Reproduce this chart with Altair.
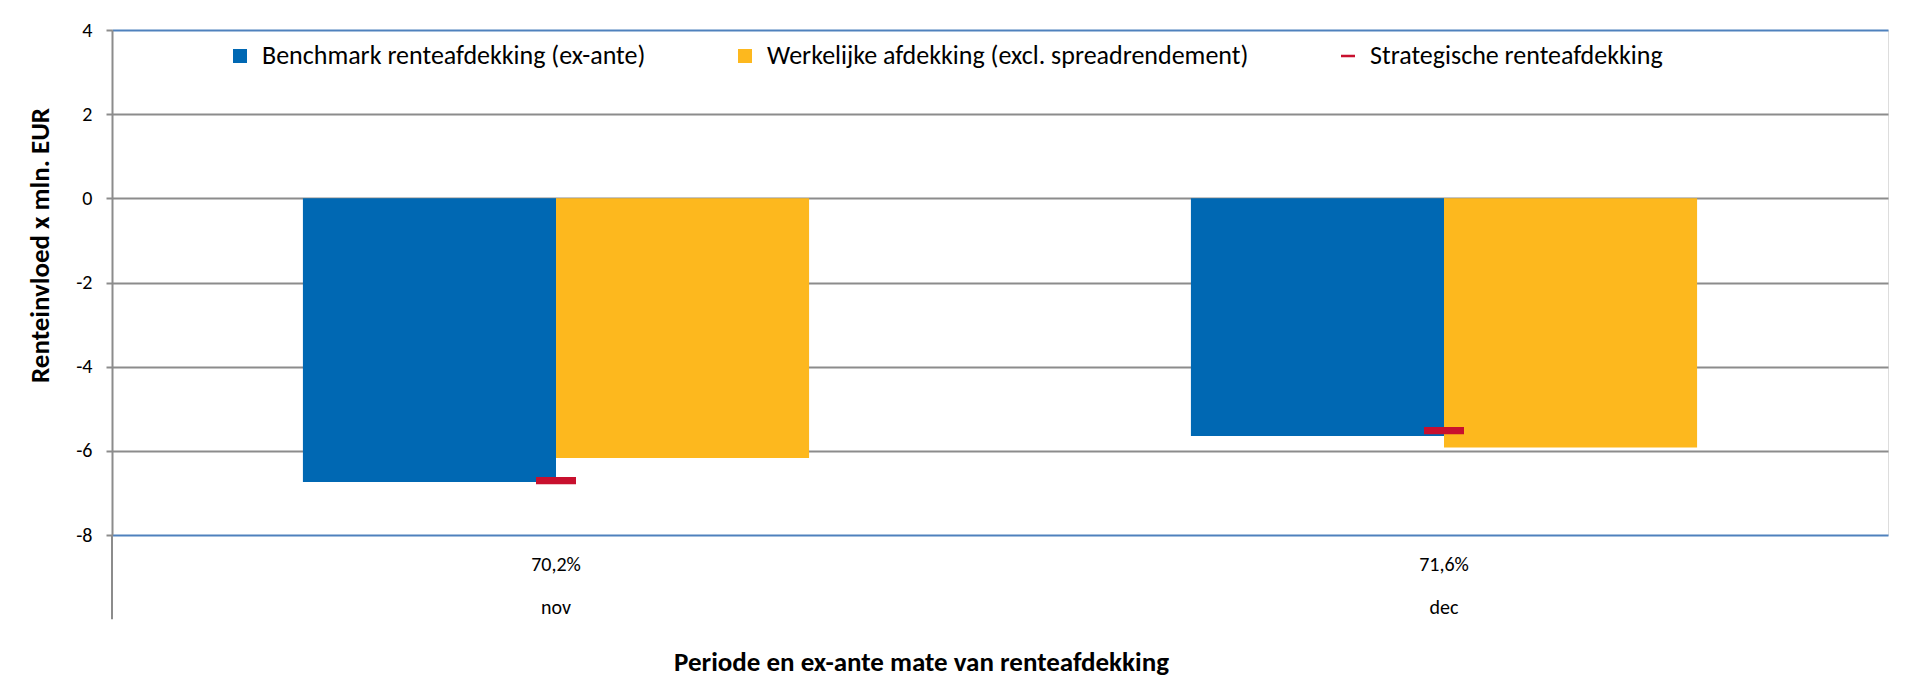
import altair as alt
import pandas as pd

periods = ["nov", "dec"]
hedge_ratios = ["70,2%", "71,6%"]
series_names = [
    "Benchmark renteafdekking (ex-ante)",
    "Werkelijke afdekking (excl. spreadrendement)",
    "Strategische renteafdekking",
]
benchmark = [-6.74, -5.65]
werkelijk = [-6.17, -5.92]
strategisch = [-6.71, -5.52]
y_ticks = [-8, -6, -4, -2, 0, 2, 4]

colors = ["#0068B3", "#FDB81E", "#C8102E"]
shapes = ["square", "square", "M-1,-0.18H1V0.18H-1Z"]
FONT = "Carlito, Calibri, Lato, sans-serif"

rows = []
for i, p in enumerate(periods):
    lab = hedge_ratios[i] + "|" + p
    rows.append({"cat": lab, "series": series_names[0], "value": benchmark[i]})
    rows.append({"cat": lab, "series": series_names[1], "value": werkelijk[i]})
    rows.append({"cat": lab, "series": series_names[2], "value": strategisch[i]})
df = pd.DataFrame(rows)
cat_order = [hedge_ratios[i] + "|" + p for i, p in enumerate(periods)]

x_enc = alt.X(
    "cat:N",
    sort=cat_order,
    scale=alt.Scale(paddingInner=0.43, paddingOuter=0.215),
    axis=alt.Axis(
        title="Periode en ex-ante mate van renteafdekking",
        labelExpr="split(datum.label, '|')",
        labelAngle=0,
        labelFont=FONT,
        labelFontSize=20,
        labelColor="#000000",
        labelLineHeight=43,
        labelBaseline="alphabetic",
        labelPadding=35,
        labelLimit=0,
        ticks=False,
        tickSize=0,
        domain=False,
        grid=False,
        titleFont=FONT,
        titleFontSize=27,
        titleFontWeight="bold",
        titleColor="#000000",
        titleX=809,
        titleY=135,
        titleAlign="center",
        titleBaseline="alphabetic",
        titleLimit=0,
    ),
)

y_scale = alt.Scale(domain=[-8, 4], nice=False, zero=False)
y_axis = alt.Axis(
    title="Renteinvloed x mln. EUR",
    values=y_ticks,
    labelExpr="'' + datum.value",
    labelFont=FONT,
    labelFontSize=20,
    labelColor="#000000",
    labelPadding=14,
    tickSize=6,
    tickWidth=2,
    tickColor="#8C8C8C",
    domainColor="#8C8C8C",
    domainWidth=2,
    gridColor={
        "condition": {"test": "datum.value === -8 || datum.value === 4", "value": "#4F81BD"},
        "value": "#8C8C8C",
    },
    gridWidth=2,
    titleFont=FONT,
    titleFontSize=27,
    titleFontWeight="bold",
    titleColor="#000000",
    titleAngle=270,
    titleX=-72,
    titleY=215,
    titleAlign="center",
    titleBaseline="middle",
    titleLimit=0,
)

color_scale = alt.Scale(domain=series_names, range=colors)
shape_scale = alt.Scale(domain=series_names, range=shapes)
legend = alt.Legend(
    title=None,
    orient="none",
    direction="horizontal",
    legendX=115,
    legendY=13,
    labelFont=FONT,
    labelFontSize=26,
    labelColor="#000000",
    labelOffset=9,
    labelLimit=0,
    columnPadding=86,
    symbolSize=196,
    symbolStrokeWidth=0,
    symbolOpacity=1,
    padding=0,
)

base = alt.Chart(df)

bars = base.transform_filter(
    alt.FieldOneOfPredicate(field="series", oneOf=series_names[:2])
).mark_bar().encode(
    x=x_enc,
    xOffset=alt.XOffset("series:N", scale=alt.Scale(domain=series_names[:2], paddingInner=0, paddingOuter=0)),
    y=alt.Y("value:Q", scale=y_scale, axis=y_axis),
    y2=alt.datum(0),
    color=alt.Color("series:N", scale=color_scale, legend=legend),
)

markers = base.transform_filter(
    alt.FieldEqualPredicate(field="series", equal=series_names[2])
).mark_point(filled=True, size=1600, opacity=1, strokeWidth=0).encode(
    x=alt.X("cat:N", sort=cat_order),
    y=alt.Y("value:Q", scale=y_scale),
    color=alt.Color("series:N", scale=color_scale, legend=legend),
    shape=alt.Shape("series:N", scale=shape_scale, legend=legend),
)

axis_ext = base.transform_filter(
    alt.FieldEqualPredicate(field="series", equal=series_names[2])
).transform_aggregate(n="count()").mark_rule(color="#8C8C8C", strokeWidth=2).encode(
    x=alt.value(0),
    y=alt.datum(-8),
    y2=alt.datum(-10),
)

chart = alt.layer(bars, markers, axis_ext).properties(
    width=1776,
    height=505,
    padding={"left": 104, "top": 22, "right": 20, "bottom": 150},
    autosize=alt.AutoSizeParams(type="none"),
).configure_view(
    stroke="#4F81BD",
    strokeWidth=2,
).configure(
    font=FONT,
)

chart.save("out.html", embed_options={"renderer": "svg", "actions": False})
